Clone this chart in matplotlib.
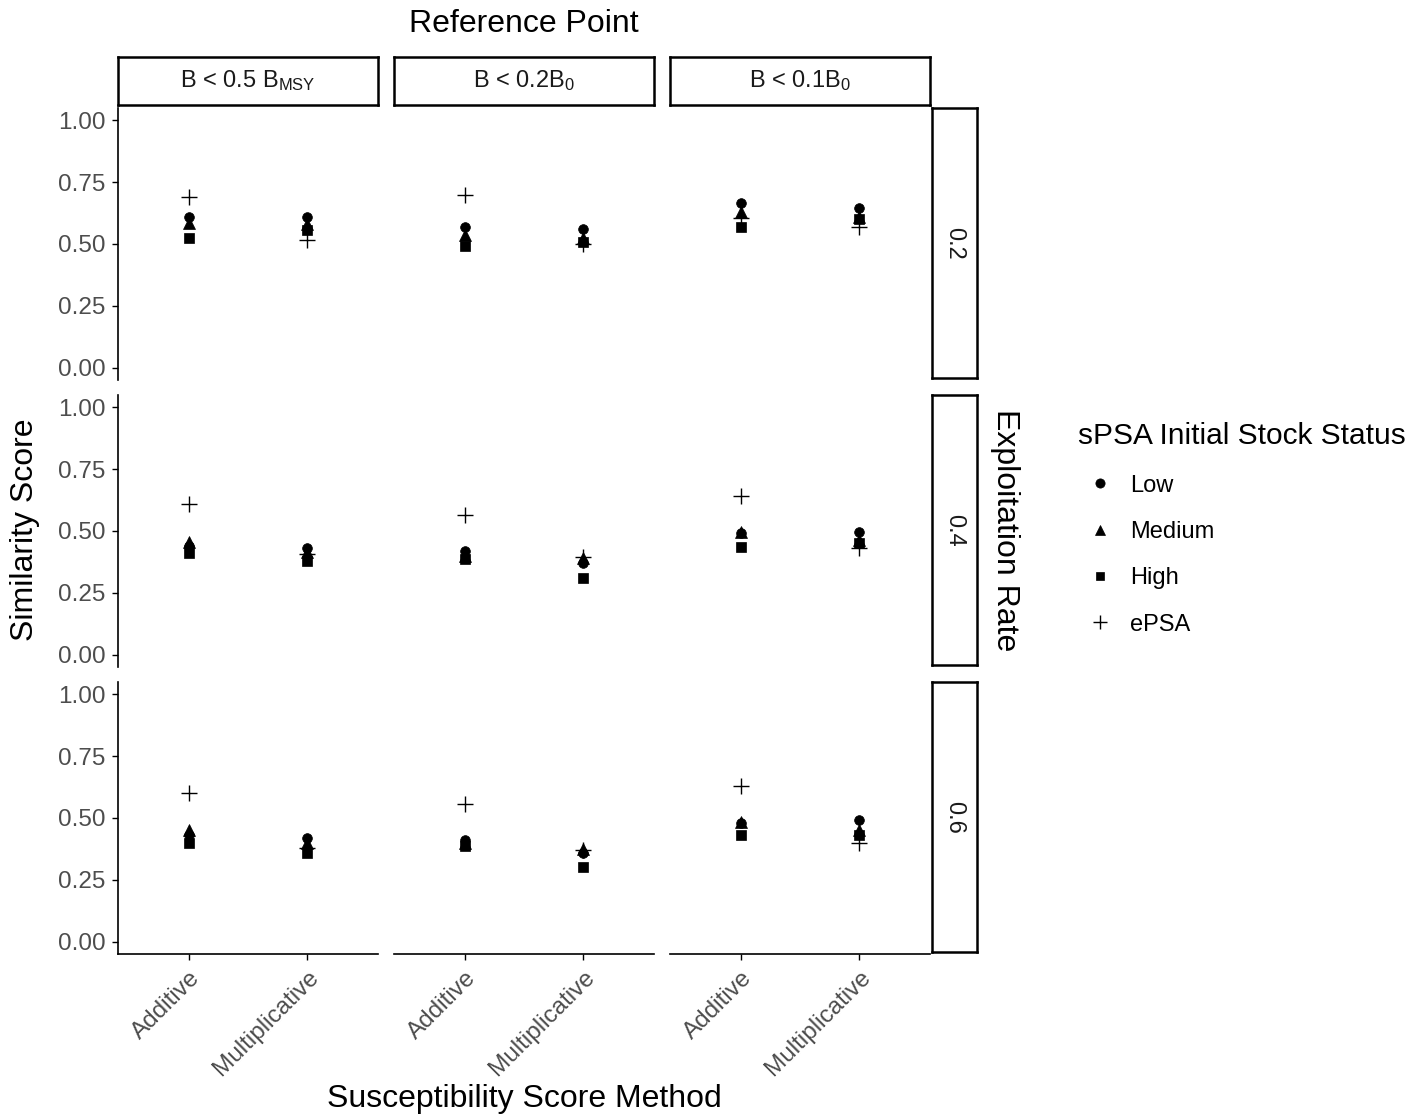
import matplotlib
matplotlib.use("Agg")
import matplotlib.pyplot as plt
from matplotlib.lines import Line2D

plt.rcParams['font.family'] = ['Liberation Sans', 'DejaVu Sans']
plt.rcParams['mathtext.fontset'] = 'custom'
plt.rcParams['mathtext.rm'] = 'Liberation Sans'
plt.rcParams['mathtext.it'] = 'Liberation Sans'

# data: [exploitation rate][reference point][method]
methods = ["Additive", "Multiplicative"]
ref_points = [r"B < 0.5 B$_{\mathrm{MSY}}$", r"B < 0.2B$_{\mathrm{0}}$", r"B < 0.1B$_{\mathrm{0}}$"]
rates = ["0.2", "0.4", "0.6"]
statuses = ["Low", "Medium", "High", "ePSA"]

low = [
    [[0.61, 0.61], [0.57, 0.56], [0.665, 0.645]],
    [[0.44, 0.43], [0.42, 0.37], [0.49, 0.495]],
    [[0.43, 0.42], [0.41, 0.36], [0.48, 0.49]],
]
medium = [
    [[0.585, 0.58], [0.535, 0.525], [0.63, 0.61]],
    [[0.455, 0.415], [0.40, 0.39], [0.495, 0.465]],
    [[0.45, 0.40], [0.40, 0.375], [0.485, 0.45]],
]
high = [
    [[0.525, 0.555], [0.49, 0.51], [0.57, 0.60]],
    [[0.41, 0.38], [0.385, 0.31], [0.435, 0.45]],
    [[0.40, 0.36], [0.385, 0.30], [0.43, 0.43]],
]
epsa = [
    [[0.69, 0.515], [0.70, 0.50], [0.605, 0.57]],
    [[0.61, 0.405], [0.565, 0.395], [0.64, 0.43]],
    [[0.60, 0.38], [0.555, 0.37], [0.63, 0.40]],
]

series = [low, medium, high, epsa]
markers = ['o', '^', 's', '+']
msizes = [7, 8, 6.5, 11]

W, H = 1421, 1118
fig = plt.figure(figsize=(W / 100, H / 100), dpi=100)


def px_axes(x0, y0, x1, y1):
    return fig.add_axes([x0 / W, 1 - y1 / H, (x1 - x0) / W, (y1 - y0) / H])


cols = [(118, 378), (394, 654), (670, 930)]
rows = [(108, 380), (395, 667), (682, 954)]
grey = '#4D4D4D'

for i, (ry0, ry1) in enumerate(rows):
    for j, (cx0, cx1) in enumerate(cols):
        ax = px_axes(cx0, ry0, cx1, ry1)
        for data, m, ms in zip(series, markers, msizes):
            ax.plot([1, 2], data[i][j], linestyle='none', marker=m, color='black',
                    markersize=ms, markeredgewidth=1.0 if m == '+' else 0.5)
        ax.set_xlim(0.4, 2.6)
        ax.set_ylim(-0.05, 1.05)
        for s in ['top', 'right']:
            ax.spines[s].set_visible(False)
        ax.spines['left'].set_visible(j == 0)
        ax.spines['bottom'].set_visible(i == 2)
        ax.spines['left'].set_linewidth(1.2)
        ax.spines['bottom'].set_linewidth(1.2)
        ax.set_yticks([0, 0.25, 0.5, 0.75, 1.0])
        ax.set_xticks([1, 2])
        ax.tick_params(axis='both', length=4, width=1.0, pad=5, colors='black',
                       labelcolor=grey, labelsize=17.5)
        if j == 0:
            ax.set_yticklabels(['0.00', '0.25', '0.50', '0.75', '1.00'])
        else:
            ax.tick_params(axis='y', left=False, labelleft=False)
        if i == 2:
            ax.set_xticklabels(methods, rotation=45, ha='right', va='top',
                               rotation_mode='anchor')
        else:
            ax.tick_params(axis='x', bottom=False, labelbottom=False)

# top strips
for j, (cx0, cx1) in enumerate(cols):
    sa = px_axes(cx0, 57, cx1, 105)
    sa.set_xticks([])
    sa.set_yticks([])
    for s in sa.spines.values():
        s.set_linewidth(1.8)
    sa.text(0.5, 0.5, ref_points[j], ha='center', va='center', fontsize=17,
            color='#1A1A1A', transform=sa.transAxes)

# right strips
for i, (ry0, ry1) in enumerate(rows):
    sa = px_axes(932, ry0, 977, ry1 - 2)
    sa.set_xticks([])
    sa.set_yticks([])
    for s in sa.spines.values():
        s.set_linewidth(1.8)
    sa.text(0.5, 0.5, rates[i], ha='center', va='center', fontsize=17,
            rotation=-90, color='#1A1A1A', transform=sa.transAxes)

fig.text(524 / W, 1 - 24 / H, "Reference Point", ha='center', va='center', fontsize=23)
fig.text(1005 / W, 1 - 530 / H, "Exploitation Rate", ha='center', va='center',
         fontsize=23, rotation=-90)
fig.text(25 / W, 1 - 530 / H, "Similarity Score", ha='center', va='center',
         fontsize=23, rotation=90)
fig.text(524 / W, 1 - 1099 / H, "Susceptibility Score Method", ha='center',
         va='center', fontsize=23)

handles = [Line2D([], [], linestyle='none', marker=m, color='black', markersize=ms * 0.95,
                  markeredgewidth=1.0 if m == '+' else 0.5)
           for m, ms in zip(markers, msizes)]
leg = fig.legend(handles, statuses, title="sPSA Initial Stock Status",
                 loc='upper left', bbox_to_anchor=(1069 / W, 1 - 413 / H),
                 frameon=False, fontsize=17, title_fontsize=21.5,
                 labelspacing=1.03, handletextpad=0.4, handlelength=1.8,
                 borderaxespad=0)
leg._legend_box.align = 'left'

fig.savefig('out.png', dpi=100, facecolor='white')
